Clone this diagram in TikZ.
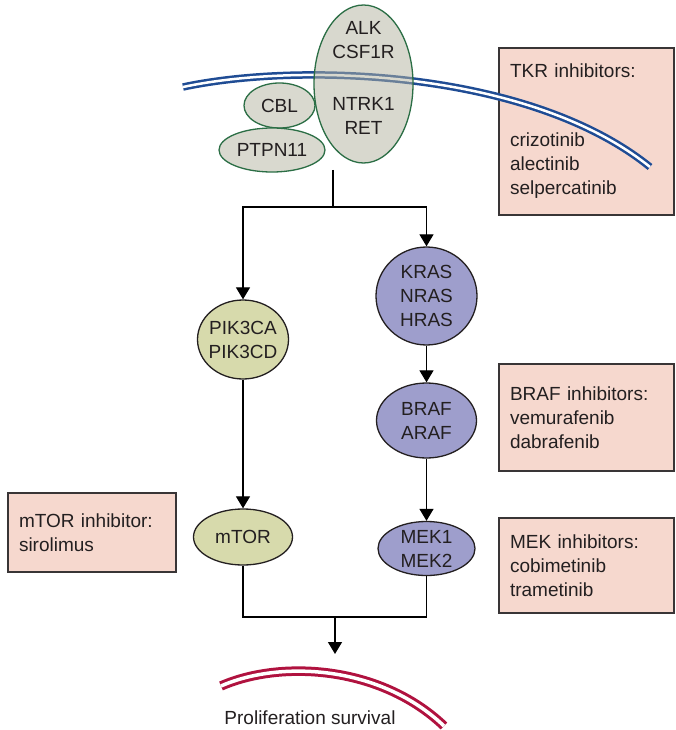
\documentclass[tikz,border=0pt]{standalone}
\usepackage{fontspec}
\setmainfont{Liberation Sans}
\usetikzlibrary{arrows.meta,shapes.geometric}
\definecolor{MembraneBlue}{HTML}{1F4C94}
\definecolor{NucleusRed}{HTML}{B0123F}
\definecolor{RtkGray}{HTML}{D9D9CF}
\definecolor{RtkShade}{HTML}{B3B39F}
\definecolor{RtkGreen}{HTML}{2B6E45}
\definecolor{PikOlive}{HTML}{D7DAAC}
\definecolor{RasLilac}{HTML}{9E9ECC}
\definecolor{DrugPink}{HTML}{F6D8CE}
\definecolor{InkGray}{HTML}{231F20}

\tikzset{
    gene/.style={ellipse, draw=InkGray, line width=1.3pt, inner sep=0pt,
        align=center, text=InkGray},
    rtkgene/.style={gene, draw=RtkGreen, fill=RtkGray},
    pikgene/.style={gene, fill=PikOlive},
    rasgene/.style={gene, fill=RasLilac},
    genetext/.style={align=center, text=InkGray, inner sep=0pt},
    drugbox/.style={rectangle, draw=InkGray!90, line width=1.2pt, fill=DrugPink,
        text=InkGray, align=left, inner xsep=11pt, inner ysep=0pt,
        text width=153pt, minimum width=175pt}
}

\begin{document}
\begin{tikzpicture}[x=1pt, y=-1pt, >={Triangle[width=14pt,length=12pt]},
    font=\fontsize{19}{24}\selectfont]
    % White page
    \fill[white] (0,0) rectangle (675,730);
    \useasboundingbox (0,0) rectangle (675,730);

    % Coordinates
    \coordinate (rtkout) at (333,170);
    \coordinate (split) at (333,207);
    \coordinate (join) at (335,617);
    \coordinate (prolifin) at (335,654);

    % Inhibitor boxes
    \node[drugbox, minimum height=167pt] (tkrbox) at (586.5,131.5)
        {TKR inhibitors:\\[45pt]crizotinib\\alectinib\\selpercatinib};
    \node[drugbox, minimum height=107pt] (brafbox) at (586.5,417.5)
        {BRAF inhibitors:\\vemurafenib\\dabrafenib};
    \node[drugbox, minimum height=95pt] (mekbox) at (586.5,565.5)
        {MEK inhibitors:\\cobimetinib\\trametinib};
    \node[drugbox, minimum height=79pt, text width=146pt, minimum width=168pt]
        (mtorbox) at (92,532.5) {mTOR inhibitor:\\sirolimus};

    % Cell membrane
    \draw[MembraneBlue, line width=2.5pt, double=white, double distance=2.5pt]
        (183,87) .. controls (300,62) and (530,70) .. (650,167);

    % Receptor and its partners (membrane shows through the receptor)
    \node[rtkgene, fill=RtkShade, fill opacity=0.5, minimum width=99pt, minimum height=158pt]
        (rtk) at (363.5,84) {};
    \node[genetext] (rtkup) at (363.5,40) {ALK\\CSF1R};
    \node[genetext] (rtkdown) at (363.5,116) {NTRK1\\RET};
    \node[rtkgene, minimum width=71pt, minimum height=45pt] (cbl) at (279.5,105.5) {CBL};
    \node[rtkgene, minimum width=106pt, minimum height=44pt] (ptpn) at (272,150) {PTPN11};

    % PI3K branch
    \node[pikgene, inner xsep=-4pt, minimum width=91pt, minimum height=79pt]
        (pik) at (243,339.5) {PIK3CA\\PIK3CD};
    \node[pikgene, minimum width=99pt, minimum height=56pt] (mtor) at (243,537) {mTOR};

    % RAS branch
    \node[rasgene, minimum width=101pt, minimum height=98pt] (kras) at (426.5,296)
        {KRAS\\NRAS\\HRAS};
    \node[rasgene, minimum width=100pt, minimum height=75pt] (braf) at (426.5,420.5)
        {BRAF\\ARAF};
    \node[rasgene, minimum width=97pt, minimum height=54pt] (mek) at (426.5,548.5)
        {MEK1\\MEK2};

    % Signalling arrows
    \draw[line width=1.2pt] (rtkout) -- (split);
    \draw[->, line width=1.2pt] (split) -| (pik);
    \draw[->, line width=1.2pt] (split) -| (kras);
    \draw[->, line width=1.2pt] (pik) -- (mtor);
    \draw[->, line width=1.2pt] (kras) -- (braf);
    \draw[->, line width=1.2pt] (braf) -- (mek);
    \draw[line width=1.2pt] (mtor) |- (join);
    \draw[line width=1.2pt] (mek) |- (join);
    \draw[->, line width=1.2pt] (join) -- (prolifin);

    % Nuclear membrane
    \draw[NucleusRed, line width=3pt, double=white, double distance=3.5pt]
        (221,686) .. controls (280,660) and (380,665) .. (444,726);
    \node[anchor=base, text=InkGray, inner sep=0pt] (prolif) at (310,724)
        {Proliferation survival};
\end{tikzpicture}
\end{document}
